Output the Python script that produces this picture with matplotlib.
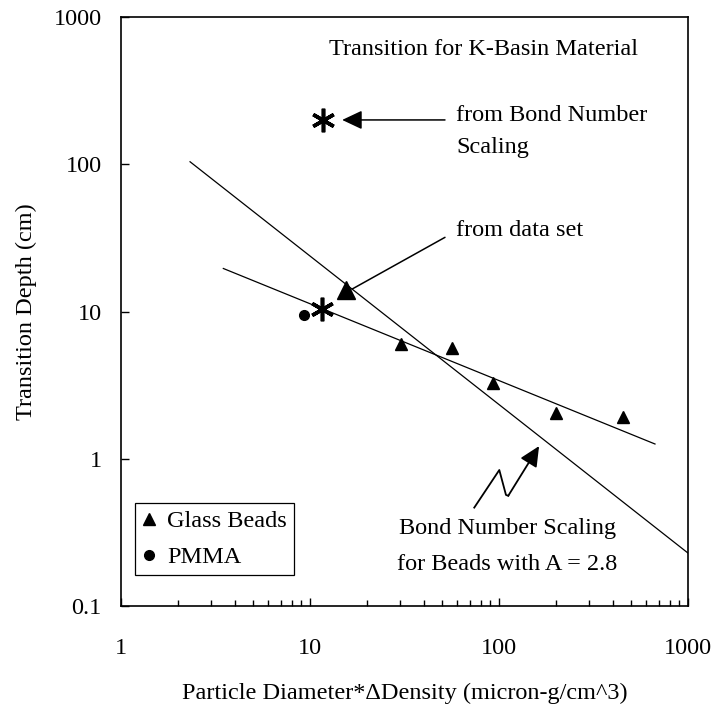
# Transition depth vs particle diameter * density difference (log-log)
import matplotlib.pyplot as plt

plt.rcParams['font.family'] = ['Liberation Serif', 'DejaVu Serif']
plt.rcParams['font.size'] = 17.5

# glass bead measurements
beads_x = [15.5, 30.2, 56.4, 93.3, 200, 455]
beads_y = [13.9, 6.05, 5.69, 3.25, 2.03, 1.91]

# PMMA measurement
pmma_x = [9.3]
pmma_y = [9.5]

# K-Basin estimates (bond number scaling, data set fit)
kbasin_x = [11.7, 11.6]
kbasin_y = [200, 10.4]

# power law fit through the bead data
fit_x = [3.48, 669]
fit_y = [19.6, 1.26]

# bond number scaling line, A = 2.8
bond_x = [2.32, 1000]
bond_y = [104, 0.229]

# zigzag leader for the bond number label
zig_x = [74, 100.4, 108.9, 112]
zig_y = [0.466, 0.839, 0.568, 0.561]
zig_tip = (163, 1.22)

fig = plt.figure(figsize=(7.15, 7.06), dpi=100)
ax = fig.add_axes([0.1692, 0.1416, 0.793, 0.8343])
ax.set_xscale('log')
ax.set_yscale('log')
ax.set_xlim(1, 1000)
ax.set_ylim(0.1, 1000)

ax.plot(fit_x, fit_y, color='black', lw=0.9)
ax.plot(bond_x, bond_y, color='black', lw=0.9)

# the first bead point is the one picked out by the "from data set" leader
ax.plot(beads_x[:1], beads_y[:1], ls='none', marker='^', ms=12.5, color='black')
ax.plot(beads_x[1:], beads_y[1:], ls='none', marker='^', ms=8.5, color='black')
ax.plot([], [], ls='none', marker='^', ms=8.5, color='black', label='Glass Beads')
ax.plot(pmma_x, pmma_y, ls='none', marker='o', ms=7, color='black',
        label='PMMA')
ax.plot(kbasin_x, kbasin_y, ls='none', marker=(6, 2, 0), ms=17, mew=2.6,
        color='black')

head = '-|>,head_length=0.7,head_width=0.33'
ax.annotate('', xy=(14.8, 200), xytext=(51.8, 200),
            arrowprops=dict(arrowstyle=head, color='black', lw=1.1,
                            shrinkA=0, shrinkB=0))
ax.annotate('', xy=(16.7, 14.2), xytext=(51.8, 31.9),
            arrowprops=dict(arrowstyle='-', color='black', lw=1.1,
                            shrinkA=0, shrinkB=0))
ax.plot(zig_x, zig_y, color='black', lw=1.3)
ax.annotate('', xy=zig_tip, xytext=(zig_x[-1], zig_y[-1]),
            arrowprops=dict(arrowstyle=head, color='black', lw=1.3,
                            shrinkA=0, shrinkB=0))

ax.text(0.640, 0.944, 'Transition for K-Basin Material', transform=ax.transAxes,
        ha='center', va='center')
ax.text(0.591, 0.806, 'from Bond Number\nScaling', transform=ax.transAxes,
        ha='left', va='center', linespacing=1.66)
ax.text(0.591, 0.638, 'from data set', transform=ax.transAxes,
        ha='left', va='center')
ax.text(0.681, 0.101, 'Bond Number Scaling\nfor Beads with A = 2.8',
        transform=ax.transAxes, ha='center', va='center', linespacing=1.9)

for s in ax.spines.values():
    s.set_linewidth(1.2)
ax.tick_params(which='both', direction='in', top=False, right=False,
               width=1.0, color='black')
ax.tick_params(which='major', length=6, labelsize=17.5)
ax.tick_params(axis='x', which='major', pad=23)
ax.tick_params(axis='y', which='major', pad=14)
ax.tick_params(which='minor', length=4.5)
ax.tick_params(axis='y', which='minor', length=0)
ax.set_xticks([1, 10, 100, 1000], ['1', '10', '100', '1000'])
ax.set_yticks([0.1, 1, 10, 100, 1000], ['0.1', '1', '10', '100', '1000'])

ax.set_xlabel('Particle Diameter*\u0394Density (micron-g/cm^3)', labelpad=17)
ax.set_ylabel('Transition Depth (cm)', labelpad=12)

leg = ax.legend(loc='lower left', bbox_to_anchor=(0.0247, 0.0526),
                borderaxespad=0, fancybox=False, framealpha=1,
                edgecolor='black', handlelength=0.6, handletextpad=0.45,
                borderpad=0.28, labelspacing=0.58)
leg.get_frame().set_linewidth(0.9)

fig.savefig('out.png', dpi=100)
